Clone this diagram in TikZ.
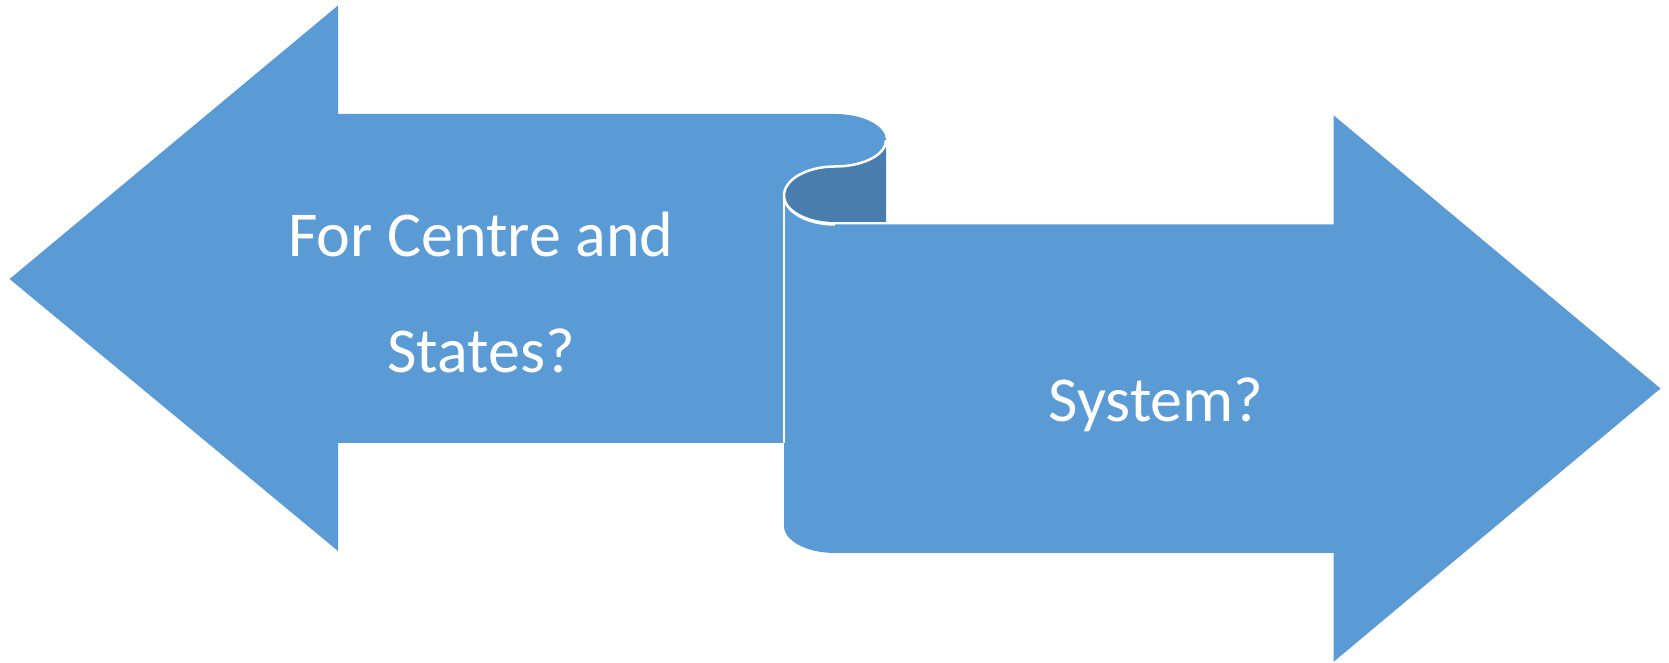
\documentclass[tikz,border=0pt]{standalone}
\usepackage{fontspec}
\setmainfont{Carlito}
\definecolor{blu}{HTML}{5B9BD5}
\definecolor{dblu}{HTML}{487DAD}
\tikzset{
  arrowshape/.style={fill=blu, draw=none},
  backshape/.style={fill=dblu, draw=none},
  edgeline/.style={draw=white, line width=2.5pt},
  lbl/.style={text=white, anchor=base, inner sep=0pt, font=\fontsize{64}{76}\selectfont}
}
\begin{document}
\begin{tikzpicture}[x=1pt,y=1pt]
\useasboundingbox (0,0) rectangle (1669,663);
% back of the scroll
\path[backshape] (886,522.75) -- (886,441) -- (835,441)
  arc[start angle=-90, end angle=-270, x radius=51, y radius=29]
  arc[start angle=-90, end angle=0, x radius=51, y radius=26.25] -- cycle;
% right arrow
\path[arrowshape] (784,467.5) -- (784,137)
  arc[start angle=180, end angle=270, x radius=51, y radius=27]
  -- (1333.7,110) -- (1333.7,1.3) -- (1660.5,274.5) -- (1333.7,547.6)
  -- (1333.7,438.5) -- (835,438.5)
  arc[start angle=-90, end angle=-180, x radius=51, y radius=29] -- cycle;
% left arrow
\path[arrowshape] (338,549) -- (835,549)
  arc[start angle=90, end angle=-90, x radius=51, y radius=26.25]
  arc[start angle=90, end angle=180, x radius=51, y radius=29]
  -- (784,220) -- (338,220) -- (338,112) -- (9.6,384) -- (338,657.5) -- cycle;
% white outlines
\draw[edgeline] (886,522.75)
  arc[start angle=0, end angle=-90, x radius=51, y radius=26.25]
  arc[start angle=90, end angle=270, x radius=51, y radius=29];
\draw[edgeline, line width=1.5pt] (835,439.6) -- (886,439.6);
\draw[edgeline, line width=2pt] (784,467.5) -- (784,220);
% texts
\node[lbl] (l1) at (481,406.3) {For Centre and};
\node[lbl] (l2) at (481,290) {States?};
\node[lbl] (r1) at (1156,241.3) {System?};
\end{tikzpicture}
\end{document}
